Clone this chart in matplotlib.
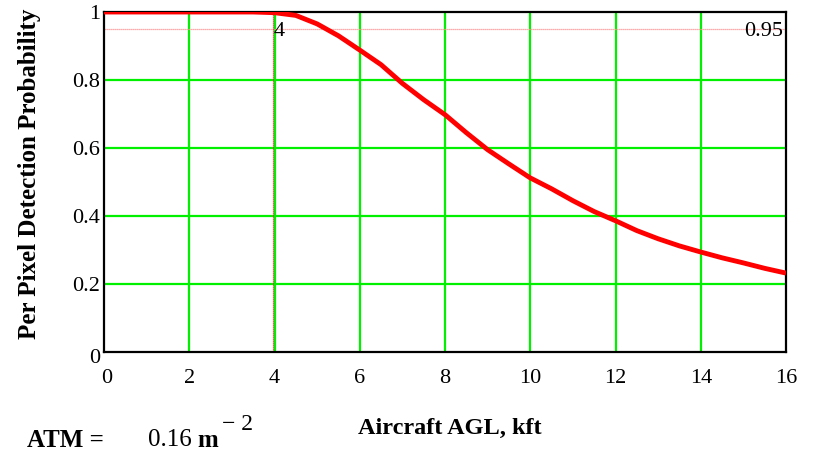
import matplotlib
matplotlib.use("Agg")
import matplotlib.pyplot as plt
import matplotlib.transforms as mtransforms

# Per-pixel detection probability vs aircraft altitude above ground level
altitude_kft = [0, 0.5, 1, 1.5, 2, 2.5, 3, 3.5, 4, 4.5, 5, 5.5, 6, 6.5, 7, 7.5,
                8, 8.5, 9, 9.5, 10, 10.5, 11, 11.5, 12, 12.5, 13, 13.5, 14,
                14.5, 15, 15.5, 16]
detect_prob = [1.0, 1.0, 1.0, 1.0, 1.0, 1.0, 1.0, 1.0, 0.998, 0.99, 0.965,
               0.93, 0.888, 0.845, 0.79, 0.742, 0.698, 0.645, 0.595, 0.553,
               0.512, 0.48, 0.445, 0.413, 0.386, 0.357, 0.333, 0.312, 0.294,
               0.277, 0.262, 0.246, 0.232]
x_ticks = [0, 2, 4, 6, 8, 10, 12, 14, 16]
y_ticks = [0, 0.2, 0.4, 0.6, 0.8, 1.0]
y_tick_labels = ["0", "0.2", "0.4", "0.6", "0.8", "1"]
threshold = 0.95
marker_alt = 4

plt.rcParams["font.family"] = ["Liberation Serif", "DejaVu Serif"]

fig = plt.figure(figsize=(8.21, 4.53), dpi=100)
ax = fig.add_axes([0.1267, 0.2230, 0.8307, 0.7505])

ax.set_xlim(0, 16)
ax.set_ylim(0, 1)

# bright green grid
for xv in x_ticks[1:-1]:
    ax.axvline(xv, color="#00f000", lw=1.6, zorder=1)
for yv in y_ticks[1:-1]:
    ax.axhline(yv, color="#00f000", lw=1.6, zorder=1)

# threshold and marker lines
ax.axhline(threshold, color="#ff9090", lw=0.9, ls=(0, (1, 0.6)), zorder=2)
shift_left = mtransforms.offset_copy(ax.get_xaxis_transform(), fig=fig,
                                     x=-1.2, y=0, units="dots")
ax.plot([marker_alt, marker_alt], [0, 1], color="#d83030", lw=0.9,
        ls=(0, (1, 0.6)), transform=shift_left, zorder=2)

ax.plot(altitude_kft, detect_prob, color="#ff0000", lw=3.5, zorder=3,
        solid_capstyle="butt")

ax.text(marker_alt - 0.02, threshold - 0.006, str(marker_alt), fontsize=16,
        ha="left", va="center", zorder=4)
ax.text(15.93, threshold - 0.008, "0.95", fontsize=16, ha="right",
        va="center", zorder=4)

for s in ax.spines.values():
    s.set_color("black")
    s.set_linewidth(1.6)

ax.set_xticks(x_ticks)
ax.set_xticklabels([str(v) for v in x_ticks], fontsize=16)
ax.set_yticks(y_ticks)
ax.set_yticklabels(y_tick_labels, fontsize=16)
ax.tick_params(axis="both", length=0)
ax.tick_params(axis="x", pad=12)
ax.tick_params(axis="y", pad=3)

# nudge the corner labels away from the origin
nudge_y0 = mtransforms.ScaledTranslation(0, -4 / 100, fig.dpi_scale_trans)
lbl_y0 = ax.get_yticklabels()[0]
lbl_y0.set_transform(lbl_y0.get_transform() + nudge_y0)
nudge_x0 = mtransforms.ScaledTranslation(3 / 100, 0, fig.dpi_scale_trans)
lbl_x0 = ax.get_xticklabels()[0]
lbl_x0.set_transform(lbl_x0.get_transform() + nudge_x0)

fig.text(0.0365, 0.616, "Per Pixel Detection Probability", fontsize=18,
         fontweight="bold", rotation=90, ha="center", va="center")
fig.text(0.548, 0.055, "Aircraft AGL, kft", fontsize=17.5, fontweight="bold",
         ha="center", va="center")

fig.text(0.033, 0.028, "ATM =", fontsize=18, fontweight="bold",
         ha="left", va="center")
fig.text(0.180, 0.028, "0.16", fontsize=18, ha="left", va="center")
fig.text(0.240, 0.028, "m", fontsize=18, fontweight="bold", ha="left",
         va="center")
fig.text(0.270, 0.062, "\u2212 2", fontsize=17, ha="left", va="center")

fig.savefig("out.png", dpi=100)
